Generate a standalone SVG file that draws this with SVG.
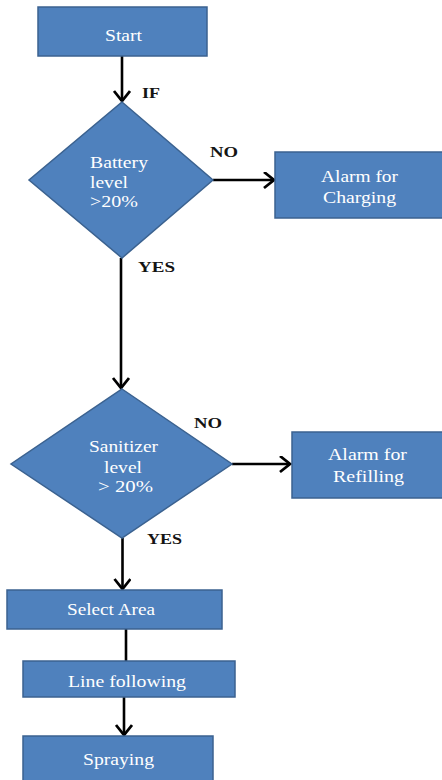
<svg xmlns="http://www.w3.org/2000/svg" width="442" height="780" viewBox="0 0 442 780">
<style>
.box{fill:#4F81BD;stroke:#3B6290;stroke-width:1.5}
.t{font-family:"Liberation Serif","Times New Roman",serif;font-size:16px;fill:#fff}
.m{text-anchor:middle}
.lbl{font-family:"Liberation Serif","Times New Roman",serif;font-size:15px;font-weight:bold;fill:#141414}
.c{stroke:#000;stroke-width:2.6;fill:none}
</style>
<defs>
<marker id="ah" markerUnits="userSpaceOnUse" markerWidth="20" markerHeight="20" refX="11" refY="8.5" orient="auto" viewBox="0 0 20 20">
<path d="M1,0.5 L11,8.5 L1,16.5" fill="none" stroke="#000" stroke-width="2.8"/>
</marker>
</defs>
<g id="connectors">
<line class="c" x1="122" y1="56" x2="122" y2="101" marker-end="url(#ah)"/>
<line class="c" x1="213" y1="180" x2="274" y2="180" marker-end="url(#ah)"/>
<line class="c" x1="121" y1="258" x2="121" y2="388" marker-end="url(#ah)"/>
<line class="c" x1="232" y1="464" x2="290" y2="464" marker-end="url(#ah)"/>
<line class="c" x1="122.5" y1="538" x2="122.5" y2="589" marker-end="url(#ah)"/>
<line class="c" x1="126" y1="629" x2="126" y2="661"/>
<line class="c" x1="124" y1="697" x2="124" y2="735" marker-end="url(#ah)"/>
</g>
<g id="labels">
<text class="lbl" x="142" y="98" textLength="18" lengthAdjust="spacingAndGlyphs">IF</text>
<text class="lbl" x="210" y="157" textLength="28" lengthAdjust="spacingAndGlyphs">NO</text>
<text class="lbl" x="138" y="272" textLength="37" lengthAdjust="spacingAndGlyphs">YES</text>
<text class="lbl" x="194" y="428" textLength="28" lengthAdjust="spacingAndGlyphs">NO</text>
<text class="lbl" x="147" y="544" textLength="35" lengthAdjust="spacingAndGlyphs">YES</text>
</g>
<g id="start">
<rect class="box" x="38" y="7" width="169" height="49"/>
<text class="t" x="105" y="41" textLength="37" lengthAdjust="spacingAndGlyphs">Start</text>
</g>
<g id="battery">
<polygon class="box" points="122,102 213,180 122,258 29,180"/>
<text class="t" x="90" y="168" textLength="58" lengthAdjust="spacingAndGlyphs">Battery</text>
<text class="t" x="90" y="188" textLength="38" lengthAdjust="spacingAndGlyphs">level</text>
<text class="t" x="90" y="207" textLength="48" lengthAdjust="spacingAndGlyphs">&gt;20%</text>
</g>
<g id="charging">
<rect class="box" x="275" y="152" width="175" height="66"/>
<text class="t" x="321" y="182" textLength="77" lengthAdjust="spacingAndGlyphs">Alarm for</text>
<text class="t" x="323" y="203" textLength="73" lengthAdjust="spacingAndGlyphs">Charging</text>
</g>
<g id="sanitizer">
<polygon class="box" points="122,389 232,464 122,538 11,464"/>
<text class="t" x="89" y="452" textLength="69" lengthAdjust="spacingAndGlyphs">Sanitizer</text>
<text class="t" x="104" y="473" textLength="38" lengthAdjust="spacingAndGlyphs">level</text>
<text class="t" x="98" y="492" textLength="55" lengthAdjust="spacingAndGlyphs">&gt; 20%</text>
</g>
<g id="refilling">
<rect class="box" x="292" y="432" width="160" height="66"/>
<text class="t" x="328" y="460" textLength="79" lengthAdjust="spacingAndGlyphs">Alarm for</text>
<text class="t" x="333" y="482" textLength="71" lengthAdjust="spacingAndGlyphs">Refilling</text>
</g>
<g id="select">
<rect class="box" x="7" y="590" width="215" height="39"/>
<text class="t" x="67" y="615" textLength="88" lengthAdjust="spacingAndGlyphs">Select Area</text>
</g>
<g id="line">
<rect class="box" x="23" y="661" width="212" height="36"/>
<text class="t" x="68" y="687" textLength="118" lengthAdjust="spacingAndGlyphs">Line following</text>
</g>
<g id="spraying">
<rect class="box" x="23" y="736" width="190" height="60"/>
<text class="t" x="83" y="765" textLength="71" lengthAdjust="spacingAndGlyphs">Spraying</text>
</g>
</svg>
